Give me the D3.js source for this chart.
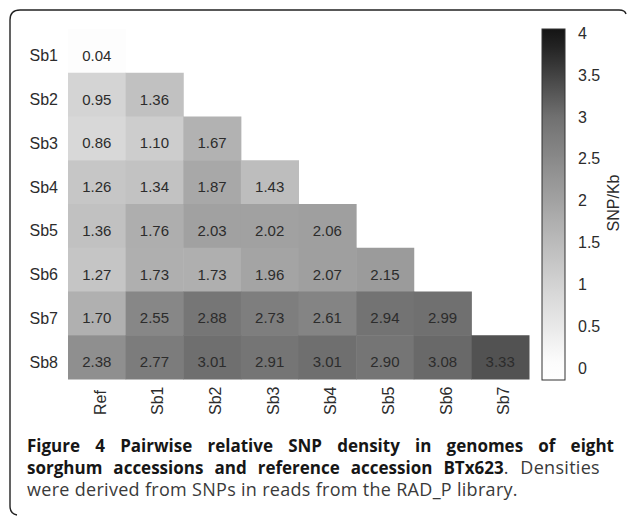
<!DOCTYPE html>
<html>
<head>
<meta charset="utf-8">
<script src="https://cdn.jsdelivr.net/npm/d3@7/dist/d3.min.js"></script>
<style>
  html, body { margin: 0; padding: 0; background: #fff; }
  svg { display: block; }
  .lbl { font-family: "Liberation Sans", Arial, sans-serif; fill: #2c2c2c; }
  .cap { font-family: "Open Sans", "Noto Sans", sans-serif; }
</style>
</head>
<body>
<svg id="chart" width="627" height="517"></svg>
<script>
// Accessions on each axis
const rowLabels = ["Sb1", "Sb2", "Sb3", "Sb4", "Sb5", "Sb6", "Sb7", "Sb8"];
const colLabels = ["Ref", "Sb1", "Sb2", "Sb3", "Sb4", "Sb5", "Sb6", "Sb7"];

// Pairwise SNP density (SNP/Kb), one row per accession, columns Ref..Sb7
const rowSb1 = [0.04];
const rowSb2 = [0.95, 1.36];
const rowSb3 = [0.86, 1.10, 1.67];
const rowSb4 = [1.26, 1.34, 1.87, 1.43];
const rowSb5 = [1.36, 1.76, 2.03, 2.02, 2.06];
const rowSb6 = [1.27, 1.73, 1.73, 1.96, 2.07, 2.15];
const rowSb7 = [1.70, 2.55, 2.88, 2.73, 2.61, 2.94, 2.99];
const rowSb8 = [2.38, 2.77, 3.01, 2.91, 3.01, 2.90, 3.08, 3.33];

// Colour bar ticks
const legendTicks = [0, 0.5, 1, 1.5, 2, 2.5, 3, 3.5, 4];
const legendTickLabels = ["0", "0.5", "1", "1.5", "2", "2.5", "3", "3.5", "4"];
const legendTitle = "SNP/Kb";

const densityRows = [rowSb1, rowSb2, rowSb3, rowSb4, rowSb5, rowSb6, rowSb7, rowSb8];
const cells = [];
densityRows.forEach((vals, r) => {
  vals.forEach((v, c) => cells.push({ row: rowLabels[r], col: colLabels[c], value: v }));
});

const svg = d3.select("#chart");

// Panel frame (open on the right and bottom)
svg.append("path")
  .attr("d", "M17,515 Q10,514 10,506 L10,20 Q10,10 20,10 L619,10 Q625,10 626,14")
  .attr("fill", "none")
  .attr("stroke", "#222")
  .attr("stroke-width", 1.4);

// Scales
const x = d3.scaleBand().domain(colLabels).range([68, 529]);
const y = d3.scaleBand().domain(rowLabels).range([29, 379]);
const color = d3.scaleLinear()
  .domain([0, 1, 2, 3, 4])
  .range(["#ffffff", "#d2d2d2", "#a2a2a2", "#707070", "#141414"])
  .clamp(true);

// Heatmap cells
svg.append("g").selectAll("rect")
  .data(cells)
  .join("rect")
  .attr("x", d => x(d.col))
  .attr("y", d => y(d.row))
  .attr("width", x.bandwidth() + 0.5)
  .attr("height", y.bandwidth() + 0.5)
  .attr("fill", d => color(d.value));

// Cell value labels
svg.append("g").selectAll("text")
  .data(cells)
  .join("text")
  .attr("class", "lbl")
  .attr("x", d => x(d.col) + x.bandwidth() / 2)
  .attr("y", d => y(d.row) + y.bandwidth() / 2 + 10)
  .attr("text-anchor", "middle")
  .attr("font-size", 15)
  .text(d => d.value.toFixed(2));

// Row labels
svg.append("g").selectAll("text")
  .data(rowLabels)
  .join("text")
  .attr("class", "lbl")
  .attr("x", 58)
  .attr("y", d => y(d) + y.bandwidth() / 2 + 10.5)
  .attr("text-anchor", "end")
  .attr("font-size", 16)
  .text(d => d);

// Column labels, rotated
svg.append("g").selectAll("text")
  .data(colLabels)
  .join("text")
  .attr("class", "lbl")
  .attr("transform", d => `translate(${x(d) + x.bandwidth() / 2 + 9},415) rotate(-90)`)
  .attr("text-anchor", "start")
  .attr("font-size", 16)
  .text(d => d);

// Colour bar
const barX = 542, barW = 23, barTop = 29, barBottom = 380;
const legendY = d3.scaleLinear().domain([0, 4]).range([367.5, 33]);
const defs = svg.append("defs");
const grad = defs.append("linearGradient")
  .attr("id", "bar-grad")
  .attr("x1", 0).attr("y1", 1).attr("x2", 0).attr("y2", 0);
d3.range(0, 1.0001, 0.05).forEach(t => {
  const py = barBottom - t * (barBottom - barTop);
  grad.append("stop")
    .attr("offset", t)
    .attr("stop-color", color(legendY.invert(py)));
});
svg.append("rect")
  .attr("x", barX).attr("y", barTop)
  .attr("width", barW).attr("height", barBottom - barTop)
  .attr("fill", "url(#bar-grad)")
  .attr("stroke", "#333")
  .attr("stroke-width", 1);

svg.append("g").selectAll("text")
  .data(legendTicks)
  .join("text")
  .attr("class", "lbl")
  .attr("x", 578)
  .attr("y", d => legendY(d) + 6)
  .attr("font-size", 16)
  .text((d, i) => legendTickLabels[i]);

svg.append("text")
  .attr("class", "lbl")
  .attr("transform", "translate(619,203) rotate(-90)")
  .attr("text-anchor", "middle")
  .attr("font-size", 16)
  .text(legendTitle);

// Caption: one paragraph, justified lines built from tspans
const capLeft = 27;
const captionLines = [
  { y: 452, right: 614, parts: [{ t: "Figure 4 Pairwise relative SNP density in genomes of eight", b: true }] },
  { y: 474, right: 600, parts: [{ t: "sorghum accessions and reference accession BTx623", b: true }, { t: ". Densities", b: false }] },
  { y: 496, right: null, parts: [{ t: "were derived from SNPs in reads from the RAD_P library.", b: false }] }
];
const caption = svg.append("text").attr("class", "cap");
captionLines.forEach(line => {
  const spans = line.parts.map((p, i) => {
    const s = caption.append("tspan")
      .attr("font-weight", p.b ? 700 : 400)
      .attr("font-size", p.b ? 17 : 18)
      .attr("letter-spacing", p.b ? 0 : 0.3)
      .attr("fill", p.b ? "#161616" : "#3a3a3a")
      .text(p.t);
    if (i === 0) s.attr("x", capLeft).attr("y", line.y);
    return s;
  });
  if (line.right !== null) {
    const full = line.parts.map(p => p.t).join("");
    const gaps = (full.match(/ /g) || []).length;
    const natural = d3.sum(spans, s => s.node().getComputedTextLength());
    const extra = (line.right - capLeft - natural) / gaps;
    spans.forEach(s => s.attr("word-spacing", extra));
  }
});
</script>
</body>
</html>
